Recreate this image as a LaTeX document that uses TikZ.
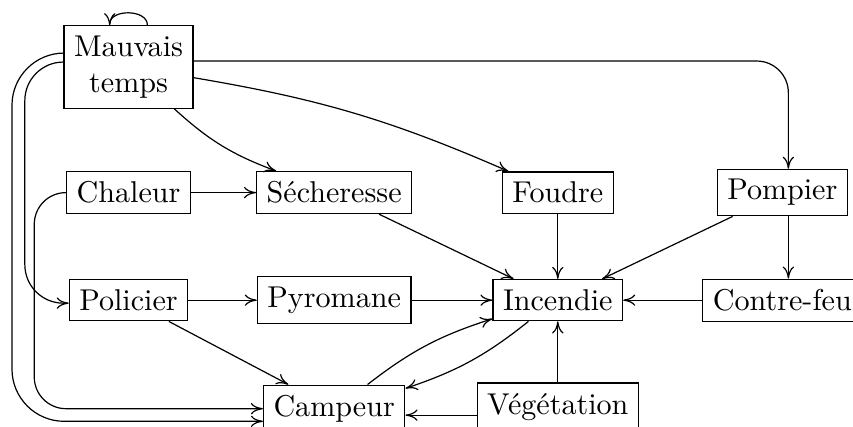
\documentclass[tikz,border=0pt]{standalone}
\usepackage{tikz}
\usetikzlibrary{calc,arrows.meta}
\tikzset{box/.style={draw,rectangle,align=center},arr/.style={-{To[length=4pt,width=3.8pt]}}}

\begin{document}
\begin{tikzpicture}
\useasboundingbox (0,0) rectangle (9.96,-4.975);
\clip (0,0) rectangle (9.96,-4.975);
\node[box] (mt) at (1.501,-0.783) {Mauvais\\temps};
\node[box] (chal) at (1.501,-2.249) {Chaleur};
\node[box] (pol) at (1.501,-3.505) {Policier};
\node[box] (sech) at (3.902,-2.249) {Sécheresse};
\node[box] (pyro) at (3.902,-3.505) {Pyromane};
\node[box] (camp) at (3.902,-4.772) {Campeur};
\node[box] (foud) at (6.513,-2.249) {Foudre};
\node[box] (inc) at (6.513,-3.505) {Incendie};
\node[box] (veg) at (6.513,-4.749) {Végétation};
\node[box] (pomp) at (9.135,-2.249) {Pompier};
\node[box] (cf) at (9.135,-3.505) {Contre-feu};
\coordinate (laneA) at (0.14,-2.5); \coordinate (laneB) at (0.29,-2.5); \coordinate (laneC) at (0.40,-3);
% Mauvais temps
\draw[arr] ([xshift=2.2mm]mt.north) .. controls +(0,0.19) and +(0,0.19) .. ([xshift=-2.2mm]mt.north);
\draw[arr,rounded corners=0.37cm] ([yshift=2pt]mt.east) -| ([xshift=2pt]pomp.north);
\draw[arr] (mt) to[bend right=11] (sech);
\draw[arr] (mt) to[bend left=7] (foud);
\draw[arr,rounded corners=0.61cm] ([yshift=4.65pt]mt.west) -| (laneA) |- ([yshift=-4.2pt]camp.west);
\draw[arr,rounded corners=0.45cm] ([yshift=1.66pt]mt.west) -| (laneB) |- ([yshift=-1pt]pol.west);
% causes
\draw[arr] (chal) -- (sech);
\draw[arr,rounded corners=0.37cm] (chal.west) -| (laneC) |- (camp.west);
\draw[arr] (pol) -- (pyro);
\draw[arr] (pol) -- (camp);
\draw[arr] (sech) -- (inc);
\draw[arr] (pyro) -- (inc);
\draw[arr] (foud) -- (inc);
\draw[arr] (pomp) -- (inc);
\draw[arr] ([xshift=2pt]pomp.south) -- ([xshift=2pt]pomp.south |- cf.north);
\draw[arr] (cf) -- (inc);
\draw[arr] (veg) -- (inc);
\draw[arr] ([yshift=-2.8pt]veg.west) -- ([yshift=-2.8pt]veg.west -| camp.east);
\draw[arr] (camp) to[bend left=10] (inc);
\draw[arr] (inc) to[bend left=10] (camp);
\end{tikzpicture}
\end{document}
